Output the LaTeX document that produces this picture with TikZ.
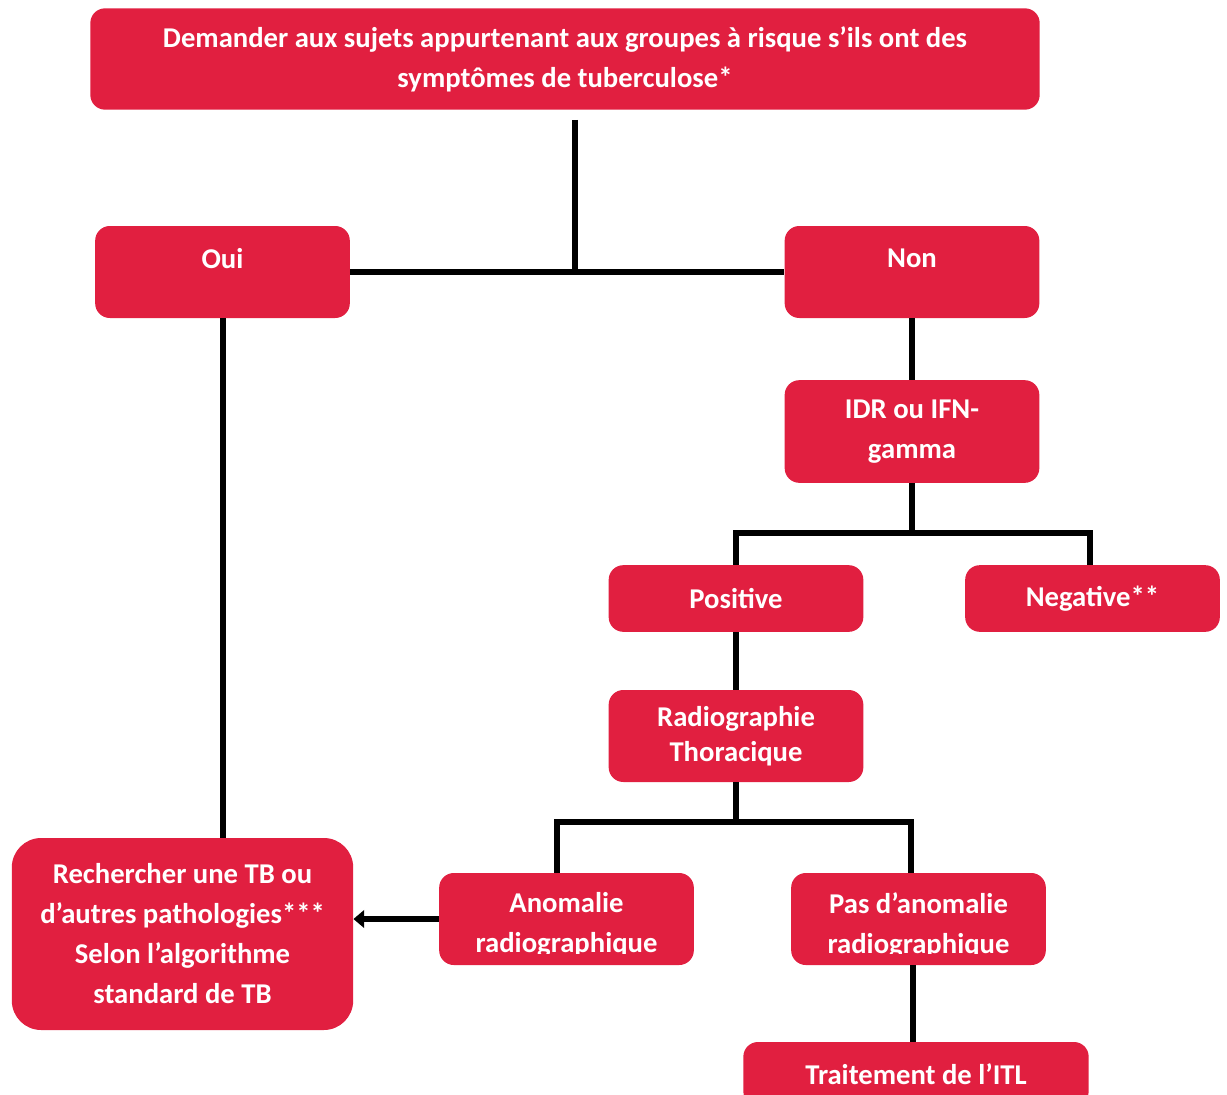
\documentclass[tikz,border=0pt]{standalone}
\usepackage{fontspec}
\setmainfont{Carlito}
\usetikzlibrary{arrows.meta}
\definecolor{tbred}{RGB}{225,31,64}
\tikzset{
  box/.style={fill=tbred, rounded corners=11pt, text=white, align=center, inner sep=0pt,
    minimum width=191pt, minimum height=69pt, font=\fontsize{21.5}{30}\selectfont\bfseries},
  topbox/.style={box, text depth=20pt},
  txt/.style={text=white, align=center, inner sep=0pt, font=\fontsize{21.5}{30}\selectfont\bfseries},
  link/.style={line width=4.5pt},
}
\begin{document}
\begin{tikzpicture}[x=0.75pt,y=-0.75pt]
\useasboundingbox (0,0) rectangle (1227,1095);
% boxes
\node[box, minimum width=712pt, minimum height=76pt] (top) at (565,59) {Demander aux sujets appurtenant aux groupes à risque s’ils ont des\\symptômes de tuberculose*};
\node[topbox] (oui) at (222.5,272) {Oui};
\node[topbox] (non) at (912,272) {Non};
\node[box, minimum height=77pt] (idr) at (912,431.5) {IDR ou IFN-\\gamma};
\node[box, minimum height=50pt] (pos) at (736,598.5) {Positive};
\node[box, minimum height=50pt] (neg) at (1092.5,598.5) {Negative**};
\node[box, font=\fontsize{21.5}{26}\selectfont\bfseries] (radio) at (736,736) {Radiographie\\Thoracique};
\node[box] (anom) at (566.5,919) {};
\node[box] (pas) at (918.5,919) {};
\node[box, minimum width=259pt, minimum height=48pt] (itl) at (916,1074) {Traitement de l’ITL};
\node[box, rounded corners=22pt, minimum width=256pt, minimum height=144pt] (rech) at (182.5,934) {Rechercher une TB ou\\d’autres pathologies***\\Selon l’algorithme\\standard de TB};
% texts cut at the bottom of their box
\foreach \b/\t in {anom/Anomalie, pas/Pas d’anomalie} {
  \begin{scope}
    \clip (\b.north west) rectangle ([yshift=9pt]\b.south east);
    \node[txt] at ([yshift=-4.5pt]\b.center) {\t\\radiographique};
  \end{scope}
}
% connectors
\coordinate (hub) at (575,272);
\draw[link] ([yshift=-7.5pt]top.south -| hub) -- (hub);
\draw[link] (oui.east) -- (non.west);
\draw[link] (oui.south) -- (oui.south |- rech.north);
\draw[link] (non) -- (idr);
\draw[link] (idr.south) -- ++(0,50);
\draw[link] (pos.north) -- ++(0,-32) -| ([xshift=-1.9pt]neg.north);
\draw[link] (pos) -- (radio);
\draw[link] (radio.south) -- ++(0,40);
\draw[link] ([xshift=-7pt]anom.north) -- ++(0,-51) -| ([xshift=-5.6pt]pas.north);
\draw[link, -{Triangle[length=8pt,width=13pt]}] (anom.west) -- (anom.west -| rech.east);
\draw[link] ([xshift=-4pt]pas.south) -- ([xshift=-4pt]pas.south |- itl.north);
\end{tikzpicture}
\end{document}
